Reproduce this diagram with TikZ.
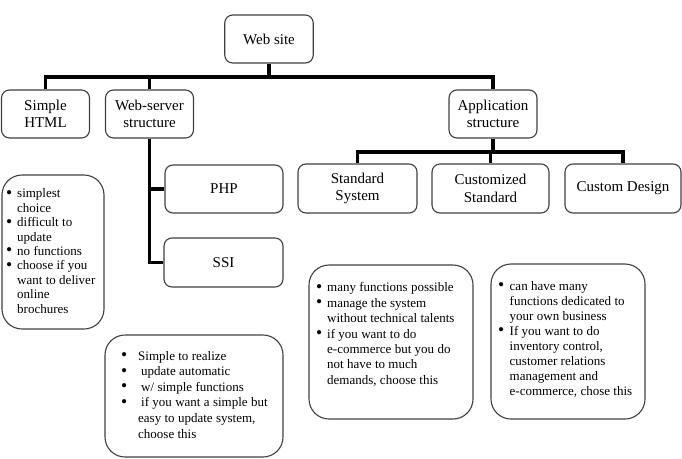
\documentclass[tikz,border=0pt]{standalone}
\usepackage{fontspec}
\usepackage{graphicx}
\setmainfont{Liberation Serif}
\newlength\bulhang
% bulleted paragraph with hanging indent; \nl breaks a line inside it
\newcommand\noteitem{\par\noindent\hangindent=\bulhang\hangafter=1\makebox[\bulhang][l]{\raisebox{-0.4pt}{\scalebox{1.35}{\textbullet}}}\strut}
\newcommand\nl{\hfil\break}
\begin{document}
\begin{tikzpicture}[x=1pt,y=-1pt,
  box/.style={draw=black!75, line width=1.1pt, rounded corners=8pt, fill=white,
    align=center, inner sep=0pt, font=\fontsize{15}{17.3}\selectfont},
  note/.style={draw=black!75, line width=1.1pt, rounded corners=20pt, inner sep=0pt},
  conn/.style={line width=3.2pt, black},
  notetext/.style={anchor=north west, inner sep=0pt, text width=200pt, align=left}
]
\useasboundingbox (0,0) rectangle (682,458);

% top level
\node[box, minimum width=88.5pt, minimum height=48pt] (root) at (269,39) {Web site};
\node[box, minimum width=88pt, minimum height=48pt] (html) at (45.5,114) {Simple\\HTML};
\node[box, minimum width=88pt, minimum height=48pt] (ws) at (149.5,114) {Web-server\\structure};
\node[box, minimum width=88pt, minimum height=48pt] (app) at (493,114) {Application\\structure};

% application branch
\node[box, minimum width=119pt, minimum height=49pt] (std) at (357.5,188.5) {Standard\\System};
\node[box, minimum width=117pt, minimum height=49pt] (cust) at (490.5,188.5) {Customized\\Standard};
\node[box, minimum width=116pt, minimum height=49pt] (cd) at (623,188.5) {Custom Design};

% web-server branch
\node[box, minimum width=118pt, minimum height=48pt] (php) at (224,189) {PHP};
\node[box, minimum width=119pt, minimum height=49pt] (ssi) at (223.5,262.5) {SSI};

% connectors
\coordinate (t1) at (269,77);
\coordinate (t2) at (493,152);
\draw[conn] (root.south) -- (t1);
\draw[conn] (html.north) -- (html.north |- t1) -- (app.north |- t1) -- (app.north);
\draw[conn] (ws.north) -- (ws.north |- t1);
\draw[conn] (app.south) -- (t2);
\draw[conn] (std.north) -- (std.north |- t2) -- (cd.north |- t2) -- (cd.north);
\draw[conn] (cust.north) -- (cust.north |- t2);
\draw[conn] (ws.south) |- (ssi.west);
\draw[conn] (ws.south |- php.west) -- (php.west);

% note boxes
\node[note, minimum width=102pt, minimum height=154pt] (nhtml) at (53,252) {};
\node[note, minimum width=178pt, minimum height=122pt] (nws) at (194,396) {};
\node[note, minimum width=164pt, minimum height=154pt] (nstd) at (391,342) {};
\node[note, minimum width=154pt, minimum height=155pt] (ncd) at (568,341.5) {};

% note texts
\node[notetext] (thtml) at (6,183.3) {\fontsize{13}{14.4}\selectfont\setlength\bulhang{11pt}\parskip=0pt
  \noteitem simplest\nl choice
  \noteitem difficult to\nl update
  \noteitem no functions
  \noteitem choose if you\nl want to deliver\nl online\nl brochures\par};
\node[notetext] (tws) at (121,344.3) {\fontsize{13}{15.6}\selectfont\setlength\bulhang{17pt}\parskip=0pt
  \noteitem Simple to realize
  \noteitem \hspace{3pt}update automatic
  \noteitem \hspace{3pt}w/ simple functions
  \noteitem \hspace{3pt}if you want a simple but\nl easy to update system,\nl choose this\par};
\node[notetext] (tstd) at (316,276.3) {\fontsize{13}{15.4}\selectfont\setlength\bulhang{11pt}\parskip=0pt
  \noteitem many functions possible
  \noteitem manage the system\nl without technical talents
  \noteitem if you want to do\nl e-commerce but you do\nl not have to much\nl demands, choose this\par};
\node[notetext] (tcd) at (498,275.3) {\fontsize{13}{15}\selectfont\setlength\bulhang{11.5pt}\parskip=0pt
  \noteitem can have many\nl functions dedicated to\nl your own business
  \noteitem If you want to do\nl inventory control,\nl customer relations\nl management and\nl e-commerce, chose this\par};
\end{tikzpicture}
\end{document}
